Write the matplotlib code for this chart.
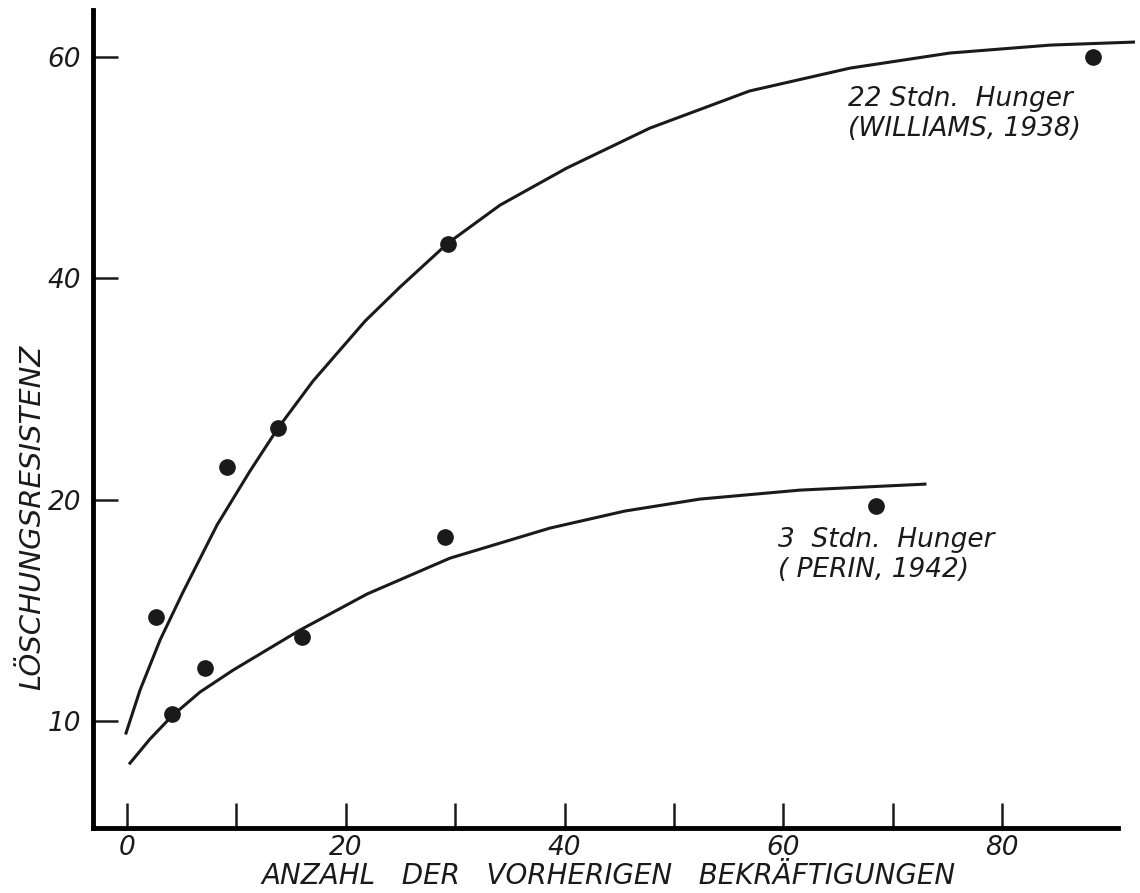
import numpy as np
import matplotlib.pyplot as plt

# Messpunkte
x_22h = [2.65, 9.1, 13.8, 29.3, 88.3]
y_22h = [14.7, 23.0, 26.5, 43.1, 60.0]

x_3h = [4.1, 7.1, 16.0, 29.1, 68.5]
y_3h = [10.3, 12.4, 13.8, 18.3, 19.7]

cx_22h = [-0.09, 1.19, 3.02, 5.12, 8.23, 11.24, 13.8, 17.0, 21.76, 24.96, 29.34,
          34.1, 40.2, 47.8, 56.9, 66.1, 75.2, 84.4, 92.0]
cy_22h = [9.46, 11.40, 13.66, 15.83, 18.86, 22.59, 26.47, 30.72, 36.14, 39.22,
          43.19, 46.62, 49.97, 53.58, 56.93, 59.0, 60.36, 61.08, 61.35]

cx_3h = [0.27, 2.10, 4.11, 6.67, 9.69, 15.81, 21.94, 29.52, 38.67, 45.52, 52.38,
         61.52, 72.94]
cy_3h = [8.10, 9.19, 10.23, 11.31, 12.30, 14.11, 15.74, 17.36, 18.72, 19.49,
         20.06, 20.87, 21.41]

x_ticks = [0, 10, 20, 30, 40, 50, 60, 70, 80]
x_labels = ['0', '', '20', '', '40', '', '60', '', '80']
y_ticks = [10, 20, 40, 60]


# Y-Achse: unter 20 gestreckt (wie im Original)
def fwd(y):
    y = np.asarray(y, dtype=float)
    return np.where(y < 20, 2 * y - 20, y)


def inv(f):
    f = np.asarray(f, dtype=float)
    return np.where(f < 20, (f + 20) / 2, f)


plt.rcParams['font.family'] = 'DejaVu Sans'
plt.rcParams['font.style'] = 'italic'

ink = '#1a1a1a'

fig = plt.figure(figsize=(11.4, 8.93), dpi=100)
ax = fig.add_axes([93 / 1140, 65 / 893, 1 - 93 / 1140, 818 / 893])
ax.set_yscale('function', functions=(fwd, inv))

ax.plot(cx_22h, cy_22h, color=ink, lw=2.2, clip_on=False, solid_joinstyle='round')
ax.plot(cx_3h, cy_3h, color=ink, lw=2.2, clip_on=False, solid_joinstyle='round')
ax.plot(x_22h, y_22h, 'o', color=ink, ms=11, clip_on=False)
ax.plot(x_3h, y_3h, 'o', color=ink, ms=11, clip_on=False)

ax.set_xlim(-3.11, 92.6)
ax.set_ylim(5.17, 64.25)

ax.spines['top'].set_visible(False)
ax.spines['right'].set_visible(False)
ax.spines['left'].set_linewidth(3.5)
ax.spines['bottom'].set_linewidth(3.5)
ax.spines['bottom'].set_bounds(-3.11, 90.6)

ax.set_xticks(x_ticks)
ax.set_xticklabels(x_labels)
ax.set_yticks(y_ticks)
ax.set_yticklabels([str(v) for v in y_ticks])
ax.yaxis.set_minor_locator(plt.NullLocator())
ax.tick_params(direction='in', length=18, width=1.8, color=ink, labelcolor=ink)
ax.tick_params(axis='x', labelsize=19, pad=5)
ax.tick_params(axis='y', labelsize=19, pad=8.6)

ax.set_xlabel('ANZAHL   DER   VORHERIGEN   BEKRÄFTIGUNGEN', fontsize=20, color=ink)
ax.xaxis.set_label_coords(0.492, -0.0415)
ax.set_ylabel('LÖSCHUNGSRESISTENZ', fontsize=21, color=ink)
ax.yaxis.set_label_coords(-0.0448, 0.38)

ax.text(65.9, 57.38, '22 Stdn.  Hunger\n(WILLIAMS, 1938)', fontsize=19,
        color=ink, va='top', ha='left', linespacing=1.2)
ax.text(59.5, 18.77, '3  Stdn.  Hunger\n( PERIN, 1942)', fontsize=19,
        color=ink, va='top', ha='left', linespacing=1.2)

fig.savefig('out.png', dpi=100)
